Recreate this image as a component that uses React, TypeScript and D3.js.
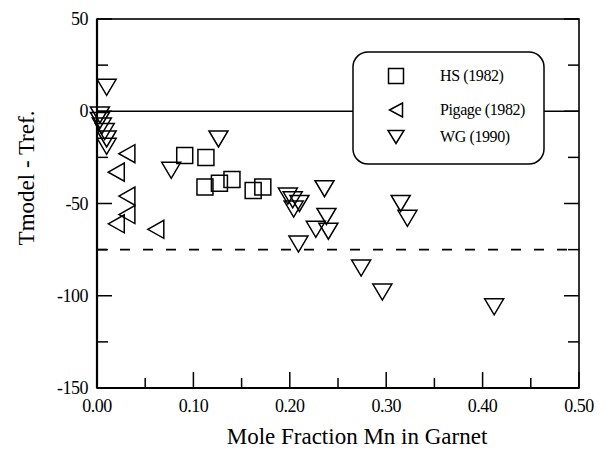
import { useRef, useEffect } from 'react';
import * as d3 from 'd3';

// HS (1982) — squares
const hsX = [0.091, 0.113, 0.112, 0.127, 0.14, 0.162, 0.172];
const hsY = [-24, -25, -41, -39, -37, -43, -41];

// Pigage (1982) — left-pointing triangles
const pigageX = [0.031, 0.02, 0.031, 0.031, 0.02, 0.061];
const pigageY = [-23, -33, -46, -56, -61, -64];

// WG (1990) — down-pointing triangles
const wgX = [0.01, 0.003, 0.003, 0.005, 0.008, 0.01, 0.01, 0.077, 0.126, 0.198, 0.203, 0.21, 0.204, 0.236, 0.238, 0.227, 0.24, 0.209, 0.315, 0.322, 0.274, 0.296, 0.412];
const wgY = [13, -2, -5, -8, -11, -15, -19, -32, -15, -46, -48, -50, -53, -42, -57, -64, -65, -72, -50, -58, -85, -98, -106];

const xTicks = [0, 0.1, 0.2, 0.3, 0.4, 0.5];
const yTicks = [50, 0, -50, -100, -150];
const referenceY = -75;

const legendLabels = ['HS (1982)', 'Pigage (1982)', 'WG (1990)'];

const FONT = "'Liberation Serif', 'DejaVu Serif', serif";

const W = 605;
const H = 453;
const left = 97;
const right = 579;
const top = 19;
const bottom = 388;

function downTri(w: number, h: number) {
  return `M${-w / 2},${-h / 2}L${w / 2},${-h / 2}L0,${h / 2}Z`;
}
function leftTri(w: number, h: number) {
  return `M${-w / 2},0L${w / 2},${-h / 2}L${w / 2},${h / 2}Z`;
}
function square(s: number) {
  return `M${-s / 2},${-s / 2}h${s}v${s}h${-s}Z`;
}

export default function App() {
  const svgRef = useRef<SVGSVGElement>(null);

  useEffect(() => {
    document.body.style.margin = '0';
    if (!svgRef.current) return;
    const svg = d3.select(svgRef.current);
    svg.selectAll('*').remove();

    const x = d3.scaleLinear().domain([0, 0.5]).range([left, right]);
    const y = d3.scaleLinear().domain([-150, 50]).range([bottom, top]);

    svg.append('rect').attr('width', W).attr('height', H).attr('fill', '#fff');

    // reference lines
    svg.append('line')
      .attr('x1', left).attr('x2', right)
      .attr('y1', y(0)).attr('y2', y(0))
      .attr('stroke', '#000').attr('stroke-width', 1.6);
    svg.append('line')
      .attr('x1', left).attr('x2', right)
      .attr('y1', y(referenceY)).attr('y2', y(referenceY))
      .attr('stroke', '#000').attr('stroke-width', 1.6)
      .attr('stroke-dasharray', '10,13');

    // ticks (inward)
    const ticks = svg.append('g').attr('stroke', '#000').attr('stroke-width', 1.5);
    d3.range(0, 0.5001, 0.05).forEach((v, i) => {
      const len = i % 2 === 0 ? 16 : 10;
      ticks.append('line').attr('x1', x(v)).attr('x2', x(v)).attr('y1', bottom).attr('y2', bottom - len);
    });
    d3.range(-150, 50.01, 25).forEach((v) => {
      const len = v % 50 === 0 ? 15 : 11;
      ticks.append('line').attr('x1', left).attr('x2', left + len).attr('y1', y(v)).attr('y2', y(v));
      ticks.append('line').attr('x1', right).attr('x2', right - len).attr('y1', y(v)).attr('y2', y(v));
    });

    // frame
    svg.append('rect')
      .attr('x', left).attr('y', top)
      .attr('width', right - left).attr('height', bottom - top)
      .attr('fill', 'none').attr('stroke', '#000').attr('stroke-width', 1.6);
    svg.append('line').attr('x1', left).attr('x2', left).attr('y1', top).attr('y2', bottom)
      .attr('stroke', '#000').attr('stroke-width', 2.2);
    svg.append('line').attr('x1', left).attr('x2', right).attr('y1', bottom).attr('y2', bottom)
      .attr('stroke', '#000').attr('stroke-width', 2.2);

    // tick labels
    svg.append('g').selectAll('text').data(xTicks).join('text')
      .attr('x', (d) => x(d)).attr('y', 412)
      .attr('text-anchor', 'middle')
      .style('font-family', FONT).attr('font-size', 18).attr('letter-spacing', -0.5)
      .text((d) => d3.format('.2f')(d));
    svg.append('g').selectAll('text').data(yTicks).join('text')
      .attr('x', 88).attr('y', (d) => y(d))
      .attr('text-anchor', 'end').attr('dominant-baseline', 'central')
      .style('font-family', FONT).attr('font-size', 18).attr('letter-spacing', -0.5)
      .text((d) => d);

    // axis titles
    svg.append('text')
      .attr('x', 357).attr('y', 444)
      .attr('text-anchor', 'middle')
      .style('font-family', FONT).attr('font-size', 23)
      .text('Mole Fraction Mn in Garnet');
    svg.append('text')
      .attr('transform', 'translate(34,178) rotate(-90)')
      .attr('text-anchor', 'middle')
      .style('font-family', FONT).attr('font-size', 23)
      .text('Tmodel - Tref.');

    // markers
    const marks = svg.append('g').attr('fill', 'none').attr('stroke', '#000').attr('stroke-width', 1.5);
    marks.selectAll('path.hs').data(hsX).join('path').attr('class', 'hs')
      .attr('transform', (d, i) => `translate(${x(d)},${y(hsY[i])})`)
      .attr('d', square(16));
    marks.selectAll('path.pg').data(pigageX).join('path').attr('class', 'pg')
      .attr('transform', (d, i) => `translate(${x(d)},${y(pigageY[i])})`)
      .attr('d', leftTri(16, 18));
    marks.selectAll('path.wg').data(wgX).join('path').attr('class', 'wg')
      .attr('transform', (d, i) => `translate(${x(d)},${y(wgY[i])})`)
      .attr('d', downTri(19, 16));

    // legend
    const lg = svg.append('g');
    lg.append('rect')
      .attr('x', 353).attr('y', 52).attr('width', 191).attr('height', 112)
      .attr('rx', 15).attr('fill', '#fff').attr('stroke', '#000').attr('stroke-width', 1.5);
    const rowY = [76, 110, 137];
    const shapes = [square(15), leftTri(13, 14), downTri(16, 13)];
    legendLabels.forEach((label, i) => {
      lg.append('path')
        .attr('transform', `translate(396,${rowY[i]})`)
        .attr('d', shapes[i])
        .attr('fill', 'none').attr('stroke', '#000').attr('stroke-width', 1.5);
      lg.append('text')
        .attr('x', 440).attr('y', rowY[i] + 5)
        .style('font-family', FONT).attr('font-size', 16).attr('letter-spacing', -0.4)
        .text(label);
    });
  }, []);

  return <svg ref={svgRef} width={W} height={H} style={{ display: 'block' }} />;
}
